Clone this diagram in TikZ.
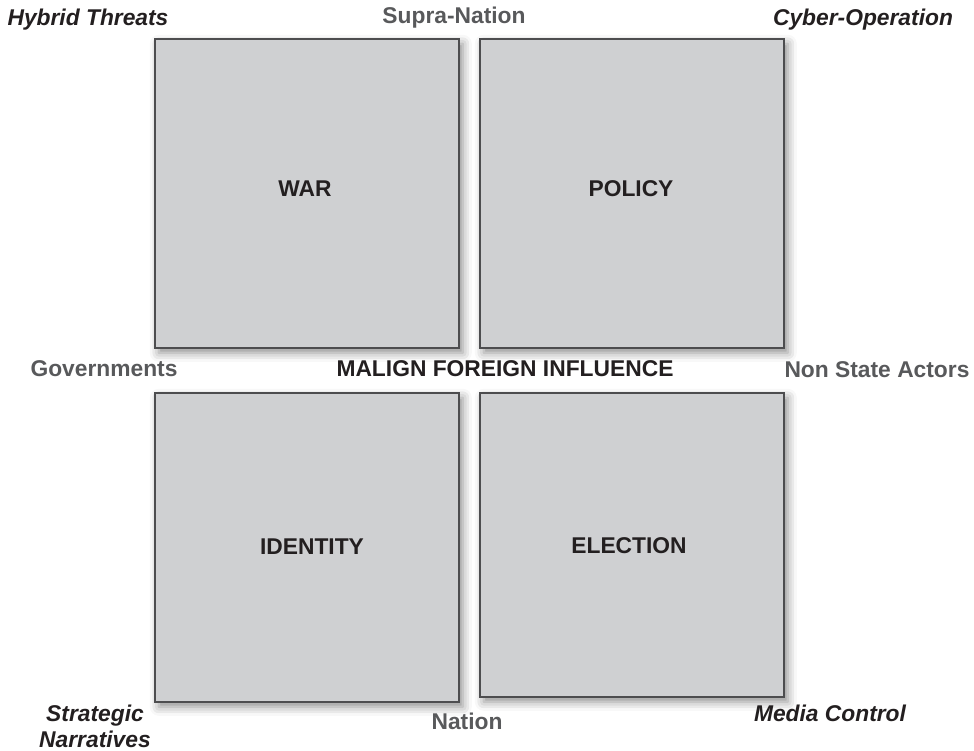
\documentclass[tikz,border=0pt]{standalone}
\usepackage{fontspec}
\setmainfont{Liberation Sans}
\usetikzlibrary{shadows.blur}
\definecolor{boxfill}{HTML}{CFD0D2}
\definecolor{boxline}{HTML}{4D4D4F}
\definecolor{darktext}{HTML}{231F20}
\definecolor{sidetext}{HTML}{58595B}
\tikzset{
  quad/.style={draw=boxline,line width=1.6pt,fill=boxfill,anchor=north west,
    inner sep=0pt,font=\fontsize{22.8}{26}\selectfont\bfseries,text=darktext,
    blur shadow={shadow xshift=4pt,shadow yshift=-5pt,shadow blur radius=9pt,shadow opacity=45}},
  corner/.style={font=\fontsize{22.8}{26}\selectfont\bfseries\itshape,text=darktext,align=center,inner sep=0pt},
  side/.style={font=\fontsize{22.8}{26}\selectfont\bfseries,text=sidetext,inner sep=0pt},
  centre/.style={font=\fontsize{22.8}{26}\selectfont\bfseries,text=darktext,inner sep=0pt}
}
\begin{document}
\begin{tikzpicture}[x=1pt,y=-1pt]
    \useasboundingbox (0,0) rectangle (974,751);
    % the four quadrants
    \node[quad,minimum width=304pt,minimum height=309pt] (war) at (154,38) {};
    \node[quad,minimum width=304pt,minimum height=309pt] (policy) at (479,38) {};
    \node[quad,minimum width=304pt,minimum height=309pt] (identity) at (154,392) {};
    \node[quad,minimum width=304pt,minimum height=304pt] (election) at (479,392) {};
    \node[centre] (warl) at (305,189) {WAR};
    \node[centre] (policyl) at (631,189) {POLICY};
    \node[centre] (identityl) at (312,547) {IDENTITY};
    \node[centre] (electionl) at (629,546) {ELECTION};
    % labels round the grid
    \node[corner] (hybrid) at (88,20) {Hybrid Threats};
    \node[side] (supra) at (454,18) {Supra-Nation};
    \node[corner] (cyber) at (863,20) {Cyber-Operation};
    \node[side] (gov) at (104,369) {Governments};
    \node[centre] (mfi) at (505,369) {MALIGN FOREIGN INFLUENCE};
    \node[side] (nsa) at (877,370) {Non State Actors};
    \node[corner] (strat) at (95,726) {Strategic\\Narratives};
    \node[side] (nation) at (467,721) {Nation};
    \node[corner] (media) at (830,713) {Media Control};
\end{tikzpicture}
\end{document}
